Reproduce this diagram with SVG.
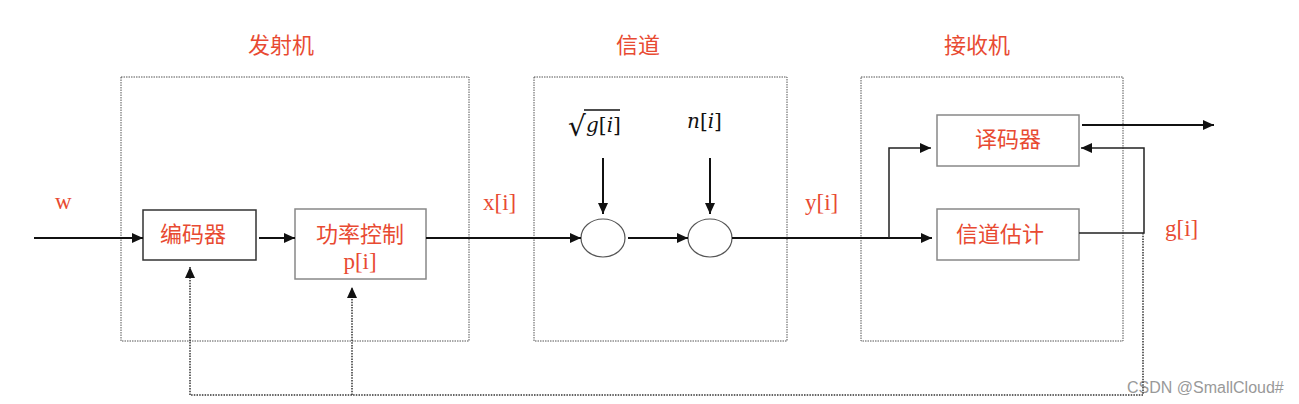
<svg xmlns="http://www.w3.org/2000/svg" width="1299" height="404" viewBox="0 0 1299 404">
<style>
.grp{fill:none;stroke:#555;stroke-width:1;stroke-dasharray:1.5,1}
.box{fill:#fff;stroke:#888;stroke-width:1.5}
.dark{stroke:#333}
.ell{fill:#fff;stroke:#555;stroke-width:1.2}
.ln{fill:none;stroke:#111;stroke-width:2}
.thin{fill:none;stroke:#222;stroke-width:1.5}
.dot{fill:none;stroke:#333;stroke-width:1.5;stroke-dasharray:1.5,1.2}
.cn{font-family:"Noto Sans CJK SC","Noto Sans",sans-serif;fill:#e84a32;font-size:22px}
.lat{font-family:"Liberation Serif",serif;fill:#e84a32;font-size:23px}
.math{font-family:"DejaVu Serif","Liberation Serif",serif;fill:#111;font-size:20px}
.it{font-style:italic}
.wm{font-family:"Liberation Sans",Arial,sans-serif;fill:#999;font-size:16px}
</style>
<defs>
<marker id="ah" markerUnits="userSpaceOnUse" markerWidth="11" markerHeight="10" refX="11" refY="5" orient="auto">
<path d="M0,0 L11,5 L0,10 z" fill="#111"/>
</marker>
</defs>

<g id="transmitter">
<rect class="grp" x="121" y="77" width="348" height="264"/>
<text class="cn" x="281" y="53" text-anchor="middle">发射机</text>
</g>
<g id="channel">
<rect class="grp" x="534" y="77" width="253" height="264"/>
<text class="cn" x="638" y="53" text-anchor="middle">信道</text>
</g>
<g id="receiver">
<rect class="grp" x="861" y="77" width="262" height="264"/>
<text class="cn" x="977" y="53" text-anchor="middle">接收机</text>
</g>

<g id="encoder">
<rect class="box dark" x="143" y="210" width="113" height="50"/>
<text class="cn" x="193" y="242" text-anchor="middle">编码器</text>
</g>
<g id="power">
<rect class="box" x="295" y="209" width="131" height="70"/>
<text class="cn" x="360" y="242" text-anchor="middle">功率控制</text>
<text class="lat" x="360" y="269" text-anchor="middle">p[i]</text>
</g>
<g id="mult">
<ellipse class="ell" cx="603" cy="238" rx="22" ry="19"/>
</g>
<g id="add">
<ellipse class="ell" cx="710" cy="238" rx="22" ry="19"/>
</g>
<g id="decoder">
<rect class="box" x="937" y="115" width="142" height="51"/>
<text class="cn" x="1008" y="147" text-anchor="middle">译码器</text>
</g>
<g id="estimator">
<rect class="box" x="937" y="209" width="142" height="51"/>
<text class="cn" x="1000" y="242" text-anchor="middle">信道估计</text>
</g>

<g id="labels">
<text class="lat" x="55" y="209">w</text>
<text class="lat" x="483" y="210">x[i]</text>
<text class="lat" x="805" y="210">y[i]</text>
<text class="lat" x="1165" y="236">g[i]</text>
<text font-family="DejaVu Sans,sans-serif" font-size="28" fill="#111" x="568" y="136">√</text>
<line x1="584" y1="110" x2="620" y2="110" stroke="#111" stroke-width="1.3"/>
<text class="math" x="586" y="132"><tspan class="it">g</tspan>[<tspan class="it">i</tspan>]</text>
<text class="math" x="687" y="128"><tspan class="it">n</tspan>[<tspan class="it">i</tspan>]</text>
<text class="wm" x="1127" y="393">CSDN @SmallCloud#</text>
</g>

<g id="connectors">
<line class="ln" x1="34" y1="238" x2="143" y2="238" marker-end="url(#ah)"/>
<line class="ln" x1="259" y1="238" x2="295" y2="238" marker-end="url(#ah)"/>
<line class="ln" x1="426" y1="238" x2="581" y2="238" marker-end="url(#ah)"/>
<line class="ln" x1="628" y1="238" x2="688" y2="238" marker-end="url(#ah)"/>
<line class="ln" x1="603" y1="158" x2="603" y2="214" marker-end="url(#ah)"/>
<line class="ln" x1="710" y1="158" x2="710" y2="214" marker-end="url(#ah)"/>
<line class="ln" x1="732" y1="238" x2="932" y2="238" marker-end="url(#ah)"/>
<polyline class="thin" points="889,238 889,148 931,148" marker-end="url(#ah)"/>
<line class="ln" x1="1082" y1="125" x2="1214" y2="125" marker-end="url(#ah)"/>
<polyline class="thin" points="1079,233 1144,233 1144,148 1081,148" marker-end="url(#ah)"/>
<polyline class="dot" points="1143,233 1143,395 190,395 190,267" marker-end="url(#ah)"/>
<line class="dot" x1="352" y1="395" x2="352" y2="287" marker-end="url(#ah)"/>
</g>
</svg>
